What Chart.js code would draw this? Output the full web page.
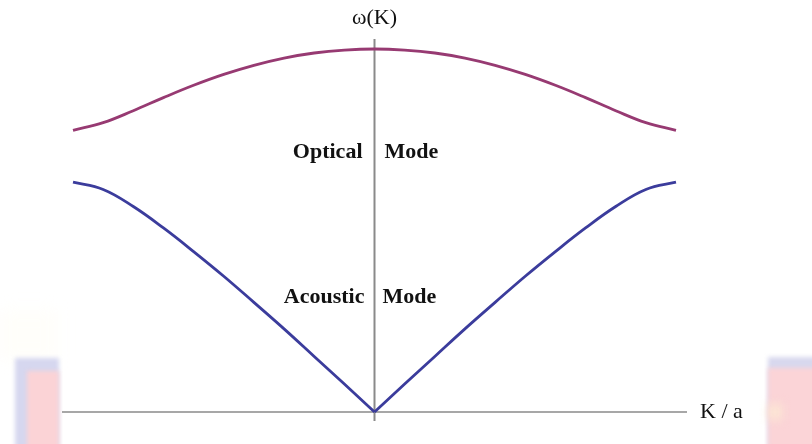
<!DOCTYPE html>
<html>
<head>
<meta charset="utf-8">
<script src="https://cdn.jsdelivr.net/npm/chart.js@4.4.1/dist/chart.umd.min.js"></script>
<style>
  html, body { margin: 0; padding: 0; background: #fff; }
  #wrap { position: relative; width: 812px; height: 444px; overflow: hidden; }
  .patch { position: absolute; filter: blur(2px); }
  #chart { position: absolute; left: 0; top: 0; }
</style>
</head>
<body>
<div id="wrap">
  <!-- faint slide background showing at the bottom corners -->
  <div class="patch" style="left:0;top:310px;width:58px;height:50px;background:#fffefa;filter:blur(8px)"></div>
  <div class="patch" style="left:15px;top:358px;width:44px;height:90px;background:#d6d7ef"></div>
  <div class="patch" style="left:27px;top:371px;width:32px;height:80px;background:#fbd3d6"></div>
  <div class="patch" style="left:768px;top:357px;width:50px;height:90px;background:#d8d8ee"></div>
  <div class="patch" style="left:768px;top:368px;width:50px;height:80px;background:#fbd4d7"></div>
  <div class="patch" style="left:768px;top:404px;width:14px;height:16px;background:#fce6d4;filter:blur(5px)"></div>
  <canvas id="chart" width="812" height="444"></canvas>
</div>
<script>
// wave vector across the first zone, in units of pi/a
const kValues = [-1, -0.9, -0.8, -0.7, -0.6, -0.5, -0.4, -0.3, -0.2, -0.1, 0,
                 0.1, 0.2, 0.3, 0.4, 0.5, 0.6, 0.7, 0.8, 0.9, 1];

// upper branch
const opticalValues = [0.776, 0.797, 0.830, 0.866, 0.900, 0.930, 0.955, 0.975, 0.989, 0.997, 1.0,
                       0.997, 0.989, 0.975, 0.955, 0.930, 0.900, 0.866, 0.830, 0.797, 0.776];

// lower branch
const acousticValues = [0.633, 0.613, 0.566, 0.507, 0.442, 0.374, 0.302, 0.229, 0.153, 0.077, 0,
                        0.077, 0.153, 0.229, 0.302, 0.374, 0.442, 0.507, 0.566, 0.613, 0.633];

const yAxisTitle = 'ω(K)';
const xAxisTitle = 'K / a';
const branchLabels = [
  { left: 'Optical', right: 'Mode', value: 0.715 },
  { left: 'Acoustic', right: 'Mode', value: 0.316 }
];

const OPTICAL_COLOR = '#973a72';
const ACOUSTIC_COLOR = '#3b3c9c';
const AXIS_COLOR = '#8a8a8a';

function points(values, from, to) {
  const out = [];
  for (let i = from; i <= to; i++) out.push({ x: kValues[i], y: values[i] });
  return out;
}

const mid = kValues.indexOf(0);

// axes drawn through the origin, plus the text labels
const axesPlugin = {
  id: 'axesPlugin',
  beforeDatasetsDraw(chart) {
    const c = chart.ctx;
    const xs = chart.scales.x;
    const ys = chart.scales.y;
    const x0 = xs.getPixelForValue(0);
    const y0 = ys.getPixelForValue(0);
    c.save();
    c.strokeStyle = AXIS_COLOR;
    c.lineWidth = 1.5;
    c.beginPath();
    c.moveTo(62, y0);
    c.lineTo(687, y0);
    c.stroke();
    c.lineWidth = 2;
    c.beginPath();
    c.moveTo(x0, 39);
    c.lineTo(x0, 421);
    c.stroke();
    c.restore();
  },
  afterDatasetsDraw(chart) {
    const c = chart.ctx;
    const xs = chart.scales.x;
    const ys = chart.scales.y;
    const x0 = xs.getPixelForValue(0);
    const y0 = ys.getPixelForValue(0);
    c.save();
    c.fillStyle = '#111';
    c.textBaseline = 'middle';
    c.font = '22px "Liberation Serif", serif';
    c.textAlign = 'center';
    c.fillText(yAxisTitle, x0, 18);
    c.textAlign = 'left';
    c.fillText(xAxisTitle, 700, y0);

    c.font = 'bold 22px "Liberation Serif", serif';
    branchLabels.forEach((lab, i) => {
      const y = ys.getPixelForValue(lab.value);
      c.textAlign = 'right';
      c.fillText(lab.left, x0 - (i === 0 ? 12 : 10), y);
      c.textAlign = 'left';
      c.fillText(lab.right, x0 + (i === 0 ? 10 : 8), y);
    });
    c.restore();
  }
};

const lineStyle = {
  borderWidth: 2.8,
  pointRadius: 0,
  tension: 0.4,
  fill: false,
  clip: false
};

new Chart(document.getElementById('chart'), {
  type: 'line',
  data: {
    datasets: [
      Object.assign({ label: 'Optical', data: points(opticalValues, 0, kValues.length - 1), borderColor: OPTICAL_COLOR }, lineStyle),
      Object.assign({ label: 'Acoustic', data: points(acousticValues, 0, mid), borderColor: ACOUSTIC_COLOR }, lineStyle),
      Object.assign({ label: 'Acoustic', data: points(acousticValues, mid, kValues.length - 1), borderColor: ACOUSTIC_COLOR }, lineStyle)
    ]
  },
  options: {
    responsive: false,
    animation: false,
    layout: { padding: { left: 73, right: 136, top: 49, bottom: 32 } },
    plugins: { legend: { display: false }, tooltip: { enabled: false } },
    scales: {
      x: { type: 'linear', min: -1, max: 1, display: false },
      y: { type: 'linear', min: 0, max: 1, display: false }
    }
  },
  plugins: [axesPlugin]
});
</script>
</body>
</html>
